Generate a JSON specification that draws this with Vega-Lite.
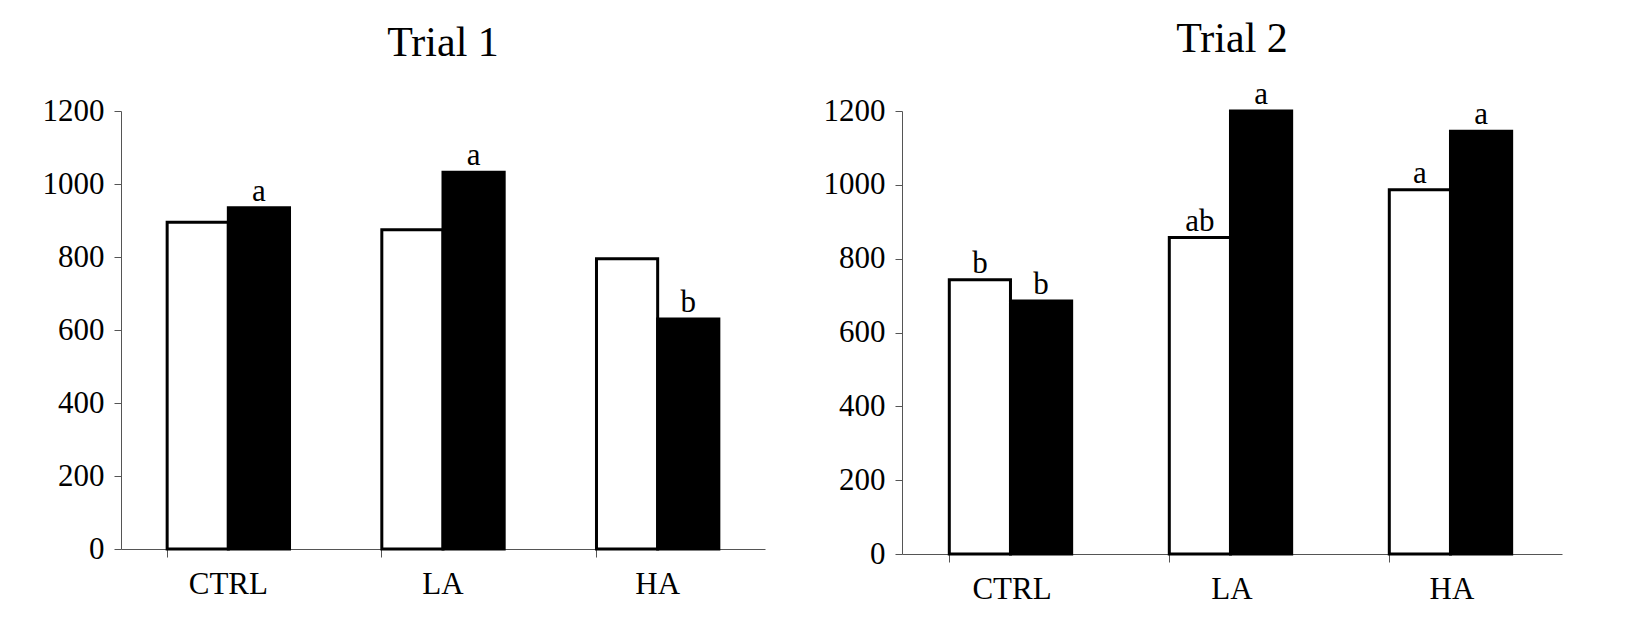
{
  "$schema": "https://vega.github.io/schema/vega-lite/v6.json",
  "background": "white",
  "padding": {"left": 42, "top": 18, "right": 5, "bottom": 5},
  "config": {
    "font": "Liberation Serif",
    "view": {"stroke": null},
    "title": {"fontSize": 42, "fontWeight": "normal", "color": "black", "offset": 30, "font": "Liberation Serif"},
    "axis": {"labelFont": "Liberation Serif", "labelFontSize": 31, "labelColor": "black", "domainColor": "#555", "tickColor": "#555", "grid": false, "title": null}
  },
  "datasets": {
    "t1": [
      {"group": "CTRL", "s": "A", "v": 895, "lab": ""},
      {"group": "CTRL", "s": "B", "v": 935, "lab": "a"},
      {"group": "LA", "s": "A", "v": 875, "lab": ""},
      {"group": "LA", "s": "B", "v": 1032, "lab": "a"},
      {"group": "HA", "s": "A", "v": 795, "lab": ""},
      {"group": "HA", "s": "B", "v": 630, "lab": "b"}
    ],
    "t2": [
      {"group": "CTRL", "s": "A", "v": 743, "lab": "b"},
      {"group": "CTRL", "s": "B", "v": 685, "lab": "b"},
      {"group": "LA", "s": "A", "v": 857, "lab": "ab"},
      {"group": "LA", "s": "B", "v": 1200, "lab": "a"},
      {"group": "HA", "s": "A", "v": 987, "lab": "a"},
      {"group": "HA", "s": "B", "v": 1145, "lab": "a"}
    ]
  },
  "spacing": 58,
  "hconcat": [
    {
      "title": "Trial 1",
      "width": 644,
      "height": 438,
      "data": {"name": "t1"},
      "encoding": {
        "x": {"field": "group", "type": "nominal", "sort": ["CTRL", "LA", "HA"],
              "scale": {"paddingInner": 0.43, "paddingOuter": 0.215},
              "axis": {"labelAngle": 0, "bandPosition": 0, "tickSize": 8, "labelPadding": 12}},
        "xOffset": {"field": "s", "type": "nominal"},
        "y": {"field": "v", "type": "quantitative", "scale": {"domain": [0, 1200]},
              "axis": {"values": [0, 200, 400, 600, 800, 1000, 1200], "format": "d", "tickSize": 7, "labelPadding": 10}}
      },
      "layer": [
        {"mark": {"type": "bar", "stroke": "black", "strokeWidth": 3},
         "encoding": {"fill": {"field": "s", "type": "nominal", "scale": {"range": ["white", "black"]}, "legend": null}}},
        {"mark": {"type": "text", "dy": -16, "fontSize": 31, "color": "black"},
         "encoding": {"text": {"field": "lab"}}}
      ]
    },
    {
      "title": {"text": "Trial 2", "offset": 18},
      "width": 660,
      "height": 443,
      "data": {"name": "t2"},
      "encoding": {
        "x": {"field": "group", "type": "nominal", "sort": ["CTRL", "LA", "HA"],
              "scale": {"paddingInner": 0.43, "paddingOuter": 0.215},
              "axis": {"labelAngle": 0, "bandPosition": 0, "tickSize": 8, "labelPadding": 12}},
        "xOffset": {"field": "s", "type": "nominal"},
        "y": {"field": "v", "type": "quantitative", "scale": {"domain": [0, 1200]},
              "axis": {"values": [0, 200, 400, 600, 800, 1000, 1200], "format": "d", "tickSize": 7, "labelPadding": 10}}
      },
      "layer": [
        {"mark": {"type": "bar", "stroke": "black", "strokeWidth": 3},
         "encoding": {"fill": {"field": "s", "type": "nominal", "scale": {"range": ["white", "black"]}, "legend": null}}},
        {"mark": {"type": "text", "dy": -16, "fontSize": 31, "color": "black"},
         "encoding": {"text": {"field": "lab"}}}
      ]
    }
  ]
}
